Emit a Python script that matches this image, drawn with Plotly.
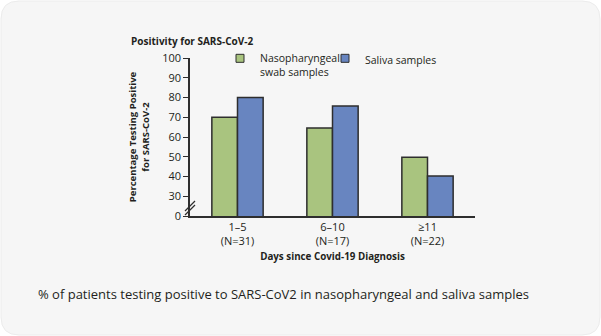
import plotly.graph_objects as go

# Data
categories = ["1–5<br>(N=31)", "6–10<br>(N=17)", "≥11<br>(N=22)"]
nasal_values = [70, 64.5, 49.7]
saliva_values = [80, 75.7, 40.2]
tick_vals = [20, 30, 40, 50, 60, 70, 80, 90, 100]
tick_text = ["0", "30", "40", "50", "60", "70", "80", "90", "100"]

W, H = 601, 336
ML, MR, MT, MB = 190, 126, 58, 120
PW, PH = W - ML - MR, H - MT - MB

def px(x):
    return (x - ML) / PW

def py(y):
    return (H - MB - y) / PH

FONT = "Open Sans"
INK = "#231f20"
GREEN = "#a9c47f"
BLUE = "#6885c0"
EDGE = "#2e2e2e"

fig = go.Figure()
fig.add_trace(go.Bar(
    x=categories, y=nasal_values, name="Nasopharyngeal<br>swab samples",
    marker=dict(color=GREEN, line=dict(color=EDGE, width=1.5)),
    showlegend=False,
))
fig.add_trace(go.Bar(
    x=categories, y=saliva_values, name="Saliva samples",
    marker=dict(color=BLUE, line=dict(color=EDGE, width=1.5)),
    showlegend=False,
))
# legend keys: small outlined squares
for name, color, leg in [("Nasopharyngeal<br>swab samples", GREEN, "legend"),
                         ("Saliva samples", BLUE, "legend2")]:
    fig.add_trace(go.Scatter(
        x=[None], y=[None], mode="markers", name=name, legend=leg,
        marker=dict(symbol="square", size=8, color=color, line=dict(color=EDGE, width=1)),
        hoverinfo="skip",
    ))

# rounded card behind everything
x0, y0, x1, y1, r = 1, 1, 600, 335, 18
path = (
    f"M {px(x0 + r)},{py(y0)} L {px(x1 - r)},{py(y0)} "
    f"Q {px(x1)},{py(y0)} {px(x1)},{py(y0 + r)} "
    f"L {px(x1)},{py(y1 - r)} Q {px(x1)},{py(y1)} {px(x1 - r)},{py(y1)} "
    f"L {px(x0 + r)},{py(y1)} Q {px(x0)},{py(y1)} {px(x0)},{py(y1 - r)} "
    f"L {px(x0)},{py(y0 + r)} Q {px(x0)},{py(y0)} {px(x0 + r)},{py(y0)} Z"
)
shapes = [dict(type="path", path=path, xref="paper", yref="paper",
               fillcolor="#f6f6f6", line=dict(color="#ececec", width=1), layer="below")]

# axis break marks
for dy in (0, 4):
    shapes.append(dict(type="line", xref="paper", yref="paper",
                       x0=px(185), y0=py(211 + dy), x1=px(195), y1=py(201 + dy),
                       line=dict(color=EDGE, width=1.3)))

fig.update_layout(
    width=W, height=H,
    margin=dict(l=ML, r=MR, t=MT, b=MB),
    paper_bgcolor="white", plot_bgcolor="rgba(0,0,0,0)",
    font=dict(family=FONT, color=INK, size=11),
    barmode="group", bargap=0.46, bargroupgap=0,
    showlegend=True,
    title=dict(text="<b>Positivity for SARS-CoV-2</b>", x=131 / W, xanchor="left",
               xref="container", y=1 - 41 / H, yanchor="middle", yref="container",
               font=dict(size=10, family=FONT, color=INK)),
    legend=dict(orientation="h", x=px(220), y=py(45), xanchor="left", yanchor="top",
                bgcolor="rgba(0,0,0,0)", valign="top", font=dict(size=10.5),
                itemclick=False),
    legend2=dict(orientation="h", x=px(325), y=py(45), xanchor="left", yanchor="top",
                 bgcolor="rgba(0,0,0,0)", valign="top", font=dict(size=10.5),
                 itemclick=False),
    xaxis=dict(showline=True, linecolor=EDGE, linewidth=1.5, ticks="",
               showgrid=False, tickfont=dict(size=11),
               title=dict(text="<b>Days since Covid-19 Diagnosis</b>",
                          font=dict(size=9.8), standoff=6)),
    yaxis=dict(range=[20, 100], tickvals=tick_vals, ticktext=tick_text,
               showline=True, linecolor=EDGE, linewidth=1.5, ticks="outside",
               ticklen=5, tickwidth=1.3, tickcolor=EDGE, showgrid=False,
               zeroline=False, tickfont=dict(size=11),
               title=dict(text="<b>Percentage Testing Positive<br>for SARS-CoV-2</b>",
                          font=dict(size=9.5), standoff=11)),
    shapes=shapes,
    annotations=[dict(
        text="% of patients testing positive to SARS-CoV2 in nasopharyngeal and saliva samples",
        xref="paper", yref="paper", x=px(283.5), y=py(294), xanchor="center", yanchor="middle",
        showarrow=False, font=dict(size=13, color=INK, family=FONT),
    )],
)

fig.write_html("out.html")
